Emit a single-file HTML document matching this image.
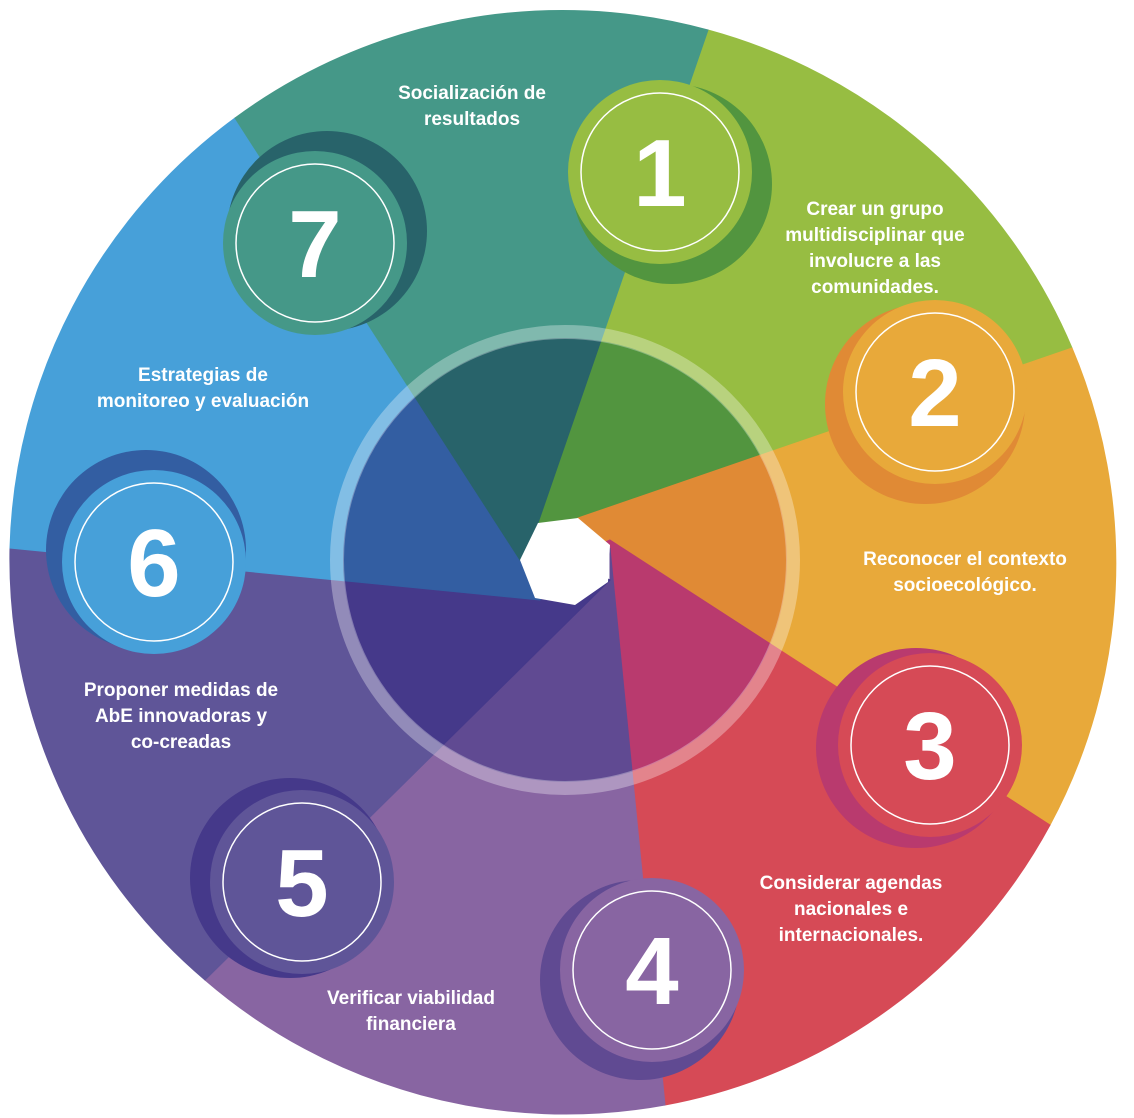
<!DOCTYPE html>
<html><head><meta charset="utf-8"><style>
html,body{margin:0;padding:0;background:#fff;}
svg{display:block}
text{font-family:"Liberation Sans",sans-serif;font-weight:bold;fill:#fff;text-anchor:middle}
.l{font-size:19px}
.n{font-size:96px}
</style></head><body>
<svg width="1134" height="1118" viewBox="0 0 1134 1118" xmlns="http://www.w3.org/2000/svg">
<defs>
<clipPath id="cc"><circle cx="565" cy="560" r="222"/></clipPath>
</defs>
<g>
<path fill="#97bd42" stroke="#97bd42" stroke-width="1" d="M538,523 L708,30 A552,552 0 0 1 1072,348 L578,518 L565,560 Z"/>
<path fill="#e8a93a" stroke="#e8a93a" stroke-width="1" d="M578,518 L1072,348 A552,552 0 0 1 1050,825 L610,545 L565,560 Z"/>
<path fill="#d64a56" stroke="#d64a56" stroke-width="1" d="M610,540 L1050,825 A552,552 0 0 1 665,1105 L610,548 L565,560 Z"/>
<path fill="#8865a2" stroke="#8865a2" stroke-width="1" d="M610,548 L665,1105 A552,552 0 0 1 205,980 L610,580 Z"/>
<path fill="#5f5598" stroke="#5f5598" stroke-width="1" d="M610,580 L205,980 A552,552 0 0 1 10,548 L540,600 L565,560 Z"/>
<path fill="#47a0d9" stroke="#47a0d9" stroke-width="1" d="M540,600 L10,548 A552,552 0 0 1 235,118 L520,560 L565,560 Z"/>
<path fill="#459888" stroke="#459888" stroke-width="1" d="M520,560 L235,118 A552,552 0 0 1 708,30 L538,523 L565,560 Z"/>
</g>
<g clip-path="url(#cc)">
<path fill="#52953f" stroke="#52953f" stroke-width="1" d="M538,523 L708,30 A552,552 0 0 1 1072,348 L578,518 L565,560 Z"/>
<path fill="#e08a35" stroke="#e08a35" stroke-width="1" d="M578,518 L1072,348 A552,552 0 0 1 1050,825 L610,545 L565,560 Z"/>
<path fill="#b93a6e" stroke="#b93a6e" stroke-width="1" d="M610,540 L1050,825 A552,552 0 0 1 665,1105 L610,548 L565,560 Z"/>
<path fill="#604a92" stroke="#604a92" stroke-width="1" d="M610,548 L665,1105 A552,552 0 0 1 205,980 L610,580 Z"/>
<path fill="#45398a" stroke="#45398a" stroke-width="1" d="M610,580 L205,980 A552,552 0 0 1 10,548 L540,600 L565,560 Z"/>
<path fill="#335ea2" stroke="#335ea2" stroke-width="1" d="M540,600 L10,548 A552,552 0 0 1 235,118 L520,560 L565,560 Z"/>
<path fill="#28636a" stroke="#28636a" stroke-width="1" d="M520,560 L235,118 A552,552 0 0 1 708,30 L538,523 L565,560 Z"/>
</g>
<circle cx="565" cy="560" r="228" fill="none" stroke="#fff" stroke-opacity="0.32" stroke-width="14"/>
<polygon fill="#fff" points="538,523 578,518 610,545 608,582 575,605 535,598 520,560"/>

<circle cx="672" cy="184" r="100" fill="#52953f"/>
<circle cx="660" cy="172" r="92" fill="#97bd42"/>
<circle cx="660" cy="172" r="79" fill="none" stroke="#fff" stroke-width="1.5"/>
<text class="n" x="660" y="206">1</text>

<circle cx="925" cy="404" r="100" fill="#e08a35"/>
<circle cx="935" cy="392" r="92" fill="#e8a93a"/>
<circle cx="935" cy="392" r="79" fill="none" stroke="#fff" stroke-width="1.5"/>
<text class="n" x="935" y="426">2</text>

<circle cx="916" cy="748" r="100" fill="#b93a6e"/>
<circle cx="930" cy="745" r="92" fill="#d64a56"/>
<circle cx="930" cy="745" r="79" fill="none" stroke="#fff" stroke-width="1.5"/>
<text class="n" x="930" y="779">3</text>

<circle cx="640" cy="980" r="100" fill="#604a92"/>
<circle cx="652" cy="970" r="92" fill="#8865a2"/>
<circle cx="652" cy="970" r="79" fill="none" stroke="#fff" stroke-width="1.5"/>
<text class="n" x="652" y="1004">4</text>

<circle cx="290" cy="878" r="100" fill="#45398a"/>
<circle cx="302" cy="882" r="92" fill="#5f5598"/>
<circle cx="302" cy="882" r="79" fill="none" stroke="#fff" stroke-width="1.5"/>
<text class="n" x="302" y="916">5</text>

<circle cx="146" cy="550" r="100" fill="#335ea2"/>
<circle cx="154" cy="562" r="92" fill="#47a0d9"/>
<circle cx="154" cy="562" r="79" fill="none" stroke="#fff" stroke-width="1.5"/>
<text class="n" x="154" y="596">6</text>

<circle cx="327" cy="231" r="100" fill="#28636a"/>
<circle cx="315" cy="243" r="92" fill="#459888"/>
<circle cx="315" cy="243" r="79" fill="none" stroke="#fff" stroke-width="1.5"/>
<text class="n" x="315" y="277">7</text>

<text class="l" x="472" y="99">Socialización de</text>
<text class="l" x="472" y="125">resultados</text>
<text class="l" x="875" y="215">Crear un grupo</text>
<text class="l" x="875" y="241">multidisciplinar que</text>
<text class="l" x="875" y="267">involucre a las</text>
<text class="l" x="875" y="293">comunidades.</text>
<text class="l" x="965" y="565">Reconocer el contexto</text>
<text class="l" x="965" y="591">socioecológico.</text>
<text class="l" x="851" y="889">Considerar agendas</text>
<text class="l" x="851" y="915">nacionales e</text>
<text class="l" x="851" y="941">internacionales.</text>
<text class="l" x="411" y="1004">Verificar viabilidad</text>
<text class="l" x="411" y="1030">financiera</text>
<text class="l" x="181" y="696">Proponer medidas de</text>
<text class="l" x="181" y="722">AbE innovadoras y</text>
<text class="l" x="181" y="748">co-creadas</text>
<text class="l" x="203" y="381">Estrategias de</text>
<text class="l" x="203" y="407">monitoreo y evaluación</text>
</svg>
</body></html>
